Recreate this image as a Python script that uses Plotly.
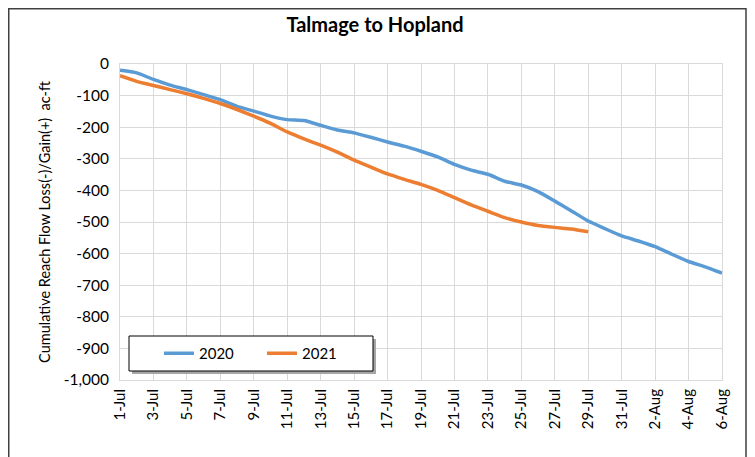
import pandas as pd
import plotly.graph_objects as go

dates_2020 = pd.date_range("2021-07-01", "2021-08-06", freq="D")
dates_2021 = pd.date_range("2021-07-01", "2021-07-29", freq="D")

vals_2020 = [-20, -28, -49, -67, -81, -97, -113, -134, -149, -165, -176, -179,
             -194, -209, -218, -232, -247, -260, -276, -294, -318, -336, -349,
             -371, -383, -404, -434, -465, -497, -521, -544, -560, -578, -602,
             -625, -642, -662]
vals_2021 = [-37, -55, -68, -81, -94, -109, -125, -144, -165, -188, -215, -237,
             -257, -279, -304, -326, -348, -365, -381, -400, -423, -446, -466,
             -486, -500, -511, -517, -522, -531]

y_ticks = [0, -100, -200, -300, -400, -500, -600, -700, -800, -900, -1000]
y_labels = ["0", "-100", "-200", "-300", "-400", "-500", "-600", "-700", "-800", "-900", "-1,000"]

FONT = "Lato"
fig = go.Figure()
fig.add_trace(go.Scatter(x=dates_2020, y=vals_2020, mode="lines", name="2020",
                         line=dict(color="#5B9BD5", width=3.5, shape="spline", smoothing=0.5)))
fig.add_trace(go.Scatter(x=dates_2021, y=vals_2021, mode="lines", name="2021",
                         line=dict(color="#ED7D31", width=3.5, shape="spline", smoothing=0.5)))

fig.update_layout(
    width=755, height=457,
    margin=dict(l=112, r=41, t=56, b=85),
    paper_bgcolor="white", plot_bgcolor="white",
    font=dict(family=FONT, color="black", size=15),
    title=dict(text="<b>Talmage to Hopland</b>", x=(375 - 8) / 755, xanchor="center",
               y=1 - 17 / 457, yanchor="middle", font=dict(size=20, family=FONT)),
    showlegend=True,
    legend=dict(orientation="h", x=(159 - 120) / 602, y=(380 - 353.5) / 316,
                xanchor="left", yanchor="middle",
                bgcolor="rgba(0,0,0,0)", borderwidth=0,
                entrywidth=58, itemwidth=30, font=dict(size=15)),
)
fig.update_xaxes(
    type="date",
    range=[dates_2020[0], dates_2020[-1]],
    tick0=dates_2020[0], dtick=2 * 86400000,
    tickformat="%-d-%b", tickangle=-90,
    showgrid=True, gridcolor="#d9d9d9", gridwidth=1,
    showline=True, linecolor="#d9d9d9",
    mirror=True, ticks="", tickfont=dict(size=15), ticklabelstandoff=2,
)
fig.update_yaxes(
    range=[-1000, 0], tickvals=y_ticks, ticktext=y_labels,
    showgrid=True, gridcolor="#d9d9d9", gridwidth=1,
    showline=True, linecolor="#d9d9d9", mirror=True,
    zeroline=False, ticks="", ticklen=0, ticklabelstandoff=7,
    title=dict(text="Cumulative Reach Flow Loss(-)/Gain(+)  ac-ft", font=dict(size=14.5), standoff=9),
    tickfont=dict(size=15.5),
)
# legend box shadow and frame
lx0, lx1 = (129 - 120) / 602, (373 - 120) / 602
ly0, ly1 = (380 - 371) / 316, (380 - 336) / 316
fig.add_shape(type="rect", xref="paper", yref="paper",
              x0=lx0 + 3 / 602, x1=lx1 + 3 / 602, y0=ly0 - 3 / 316, y1=ly1 - 3 / 316,
              line=dict(width=0), fillcolor="#a6a6a6", layer="above")
fig.add_shape(type="rect", xref="paper", yref="paper",
              x0=lx0, x1=lx1, y0=ly0, y1=ly1,
              line=dict(color="black", width=1), fillcolor="white", layer="above")
# outer chart border
fig.add_shape(type="rect", xref="paper", yref="paper",
              x0=(0.75 - 112) / 602, x1=(738 - 112) / 602, y0=-0.35, y1=(372 - 0.75) / 316,
              line=dict(color="#404040", width=1.5), fillcolor="rgba(0,0,0,0)", layer="below")
fig.write_html("out.html")
